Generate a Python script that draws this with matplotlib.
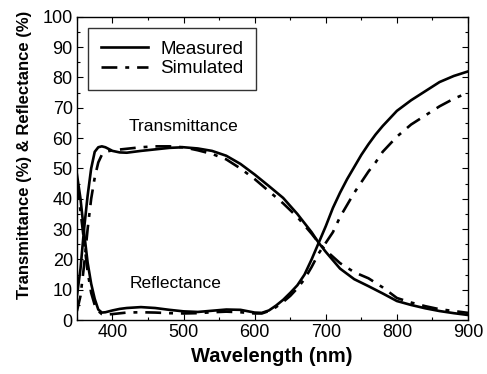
import numpy as np
import matplotlib
matplotlib.use("Agg")
import matplotlib.pyplot as plt
from matplotlib.ticker import MultipleLocator

# values (wavelength in nm, percent)
wl_t_meas = [350, 355, 360, 365, 370, 375, 380, 385, 390, 400, 410, 420, 440, 460, 480,
             500, 520, 540, 560, 580, 600, 620, 640, 660, 680, 690, 700, 720, 740, 760,
             780, 800, 820, 840, 860, 880, 900]
t_meas = [8, 17, 30, 41, 50, 55.5, 57, 57.3, 57, 55.8, 55.3, 55.2, 55.8, 56.3, 56.8,
          57, 56.6, 55.8, 54.2, 51.5, 48, 44.2, 40.3, 35, 29, 25.5, 22.5, 17, 13.5, 11.2,
          8.8, 6.3, 5, 3.9, 3, 2.3, 1.7]

wl_t_sim = [350, 355, 360, 365, 370, 375, 380, 385, 390, 400, 420, 440, 460, 480, 500,
            520, 540, 560, 580, 600, 620, 640, 660, 680, 690, 700, 720, 740, 760, 780,
            800, 820, 840, 860, 880, 900]
t_sim = [3, 8, 18, 30, 40, 47, 52, 54.5, 55.5, 56, 56.5, 57, 57.3, 57.3, 57,
         56, 54.8, 53, 50, 46.5, 42.5, 38.5, 34, 28.5, 25.5, 23, 18.8, 15.8, 13.8, 10.8,
         7.3, 5.8, 4.6, 3.6, 3, 2.4]

wl_r_meas = [350, 355, 360, 365, 370, 375, 380, 385, 390, 400, 410, 420, 440, 460, 480,
             500, 520, 540, 560, 580, 600, 610, 620, 630, 640, 650, 660, 670, 680, 690,
             700, 710, 720, 730, 740, 750, 760, 770, 780, 790, 800, 820, 840, 860, 880, 900]
r_meas = [48, 40, 29, 19, 12, 7, 3.5, 2.5, 2.6, 3.2, 3.7, 4, 4.3, 4, 3.4,
          2.9, 2.7, 3.1, 3.5, 3.4, 2.5, 2.4, 3.2, 4.8, 6.7, 9, 11.5, 15, 20, 25.5,
          31, 37, 42, 46.5, 50.5, 54.5, 58, 61.2, 64, 66.5, 69, 72.5, 75.5, 78.5, 80.5, 82]

wl_r_sim = [350, 355, 360, 365, 370, 375, 380, 385, 390, 400, 420, 440, 460, 480, 500,
            520, 540, 560, 580, 600, 610, 620, 630, 640, 650, 660, 670, 680, 690, 700,
            710, 720, 730, 740, 750, 760, 770, 780, 790, 800, 820, 840, 860, 880, 900]
r_sim = [45, 36, 26, 16, 9, 5, 3, 2, 1.8, 2, 2.5, 2.6, 2.5, 2.3, 2.2,
         2.3, 2.6, 2.8, 2.6, 2.2, 2.2, 3, 4.3, 6, 8, 10.5, 13.5, 17.5, 22, 25.5,
         29, 34, 38, 42, 45.5, 49, 52, 55.5, 58, 60.5, 64.5, 67.5, 70.5, 73, 75]

plt.rcParams['font.family'] = ['Liberation Sans', 'DejaVu Sans']

fig = plt.figure(figsize=(4.87, 3.74), dpi=100)
ax = fig.add_axes([0.158, 0.144, 0.803, 0.811])

lw = 1.9
dashdot = (0, (6, 3, 1.5, 3))
ax.plot(wl_t_meas, t_meas, color='black', lw=lw, ls='-', label='Measured')
ax.plot(wl_t_sim, t_sim, color='black', lw=lw, ls=dashdot, label='Simulated')
ax.plot(wl_r_meas, r_meas, color='black', lw=lw, ls='-')
ax.plot(wl_r_sim, r_sim, color='black', lw=lw, ls=dashdot)

ax.set_xlim(350, 900)
ax.set_ylim(0, 100)
ax.xaxis.set_major_locator(MultipleLocator(100))
ax.xaxis.set_minor_locator(MultipleLocator(50))
ax.yaxis.set_major_locator(MultipleLocator(10))
ax.yaxis.set_minor_locator(MultipleLocator(5))
ax.tick_params(which='both', direction='in', top=True, right=True,
               labelsize=13, width=0.8, pad=3)
ax.tick_params(which='major', length=4)
ax.tick_params(which='minor', length=2)
for sp in ax.spines.values():
    sp.set_linewidth(1.0)

ax.set_xlabel('Wavelength (nm)', fontsize=14.5, fontweight='bold')
ax.xaxis.set_label_coords(0.497, -0.088)
ax.set_ylabel('Transmittance (%) & Reflectance (%)', fontsize=12,
              fontweight='bold', va='center')
ax.yaxis.set_label_coords(-0.133, 0.545)

ax.text(500, 64, 'Transmittance', fontsize=12.5, ha='center', va='center')
ax.text(488, 12, 'Reflectance', fontsize=12.5, ha='center', va='center')

leg = ax.legend(loc='upper left', bbox_to_anchor=(0.028, 0.964), fontsize=13.5,
                frameon=True, fancybox=False, edgecolor='black', handlelength=2.5,
                handletextpad=0.65, borderpad=0.7, labelspacing=0.12,
                borderaxespad=0)
leg.get_frame().set_linewidth(1.0)

fig.savefig('out.png', dpi=100)
